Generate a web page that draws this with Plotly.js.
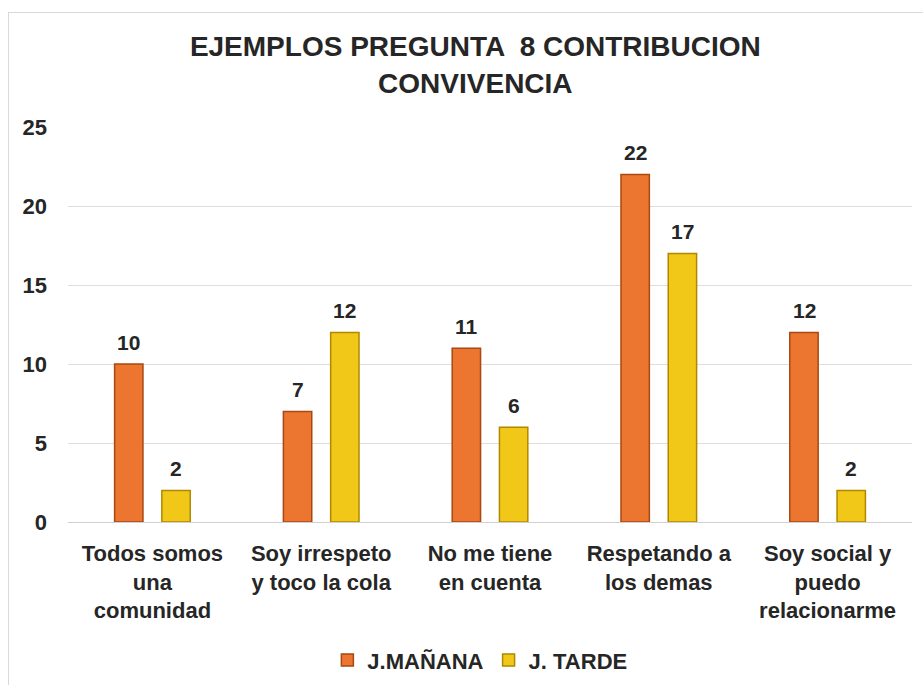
<!DOCTYPE html>
<html><head><meta charset="utf-8">
<script src="https://cdn.plot.ly/plotly-3.0.1.min.js"></script>
<style>
html,body{margin:0;padding:0;background:#fff;}
#frame{position:absolute;left:8px;top:12px;width:930px;height:690px;border:1px solid #d9d9d9;box-sizing:border-box;}
#chart{position:absolute;left:0;top:0;width:923px;height:685px;}
</style></head>
<body>
<div id="frame"></div>
<div id="chart"></div>
<script>
const categories = ["Todos somos<br>una<br>comunidad", "Soy irrespeto<br>y toco la cola", "No me tiene<br>en cuenta", "Respetando a<br>los demas", "Soy social y<br>puedo<br>relacionarme"];
const manana = [10, 7, 11, 22, 12];
const tarde = [2, 12, 6, 17, 2];
const seriesNames = ["J.MAÑANA", "J. TARDE"];
const yTicks = [0, 5, 10, 15, 20, 25];

const font = "Liberation Sans, Arial, sans-serif";
const txt = "#262626";
const traces = [
  {type:"bar", name:seriesNames[0], x:categories, y:manana,
   marker:{color:"#EC7630", line:{color:"#A84812", width:1.5}}},
  {type:"bar", name:seriesNames[1], x:categories, y:tarde,
   marker:{color:"#F2C818", line:{color:"#B08800", width:1.5}}}
];
const annotations = [];
[manana, tarde].forEach((vals, si) => {
  vals.forEach((v, i) => {
    annotations.push({x:categories[i], y:v, text:"<b>" + v + "</b>", showarrow:false, xref:"x", yref:"y",
      xshift: si === 0 ? -23.5 : 23.5, yshift:22, yanchor:"middle",
      font:{family:font, size:21, color:txt}});
  });
});
const layout = {
  width:923, height:685,
  paper_bgcolor:"rgba(0,0,0,0)", plot_bgcolor:"rgba(0,0,0,0)",
  margin:{l:68, r:11, t:127, b:163, autoexpand:false},
  title:{text:"<b>EJEMPLOS PREGUNTA  8 CONTRIBUCION<br>CONVIVENCIA</b>", x:0.515, xanchor:"center", y:0.918, yanchor:"top",
    font:{family:font, size:28, color:txt}},
  barmode:"group", bargap:0.44, bargroupgap:0.4,
  annotations: annotations,
  xaxis:{tickfont:{family:font, size:22, color:txt, weight:"bold"}, showline:false, ticks:"", ticklabelstandoff:16, automargin:false},
  yaxis:{range:[0,25], tickvals:yTicks, showgrid:true, gridcolor:"#dedede", gridwidth:1, zeroline:true, zerolinecolor:"#d0d0d0",
    tickfont:{family:font, size:22, color:txt, weight:"bold"}, ticks:"", ticklabelstandoff:20, automargin:false},
  showlegend:true,
  legend:{orientation:"h", x:0.488, xanchor:"center", y:-0.35, yanchor:"middle", font:{family:font, size:22, color:txt, weight:"bold"}, traceorder:"normal", itemwidth:30},
  font:{family:font}
};
Plotly.newPlot("chart", traces, layout, {displayModeBar:false, staticPlot:true});
</script>
</body></html>
